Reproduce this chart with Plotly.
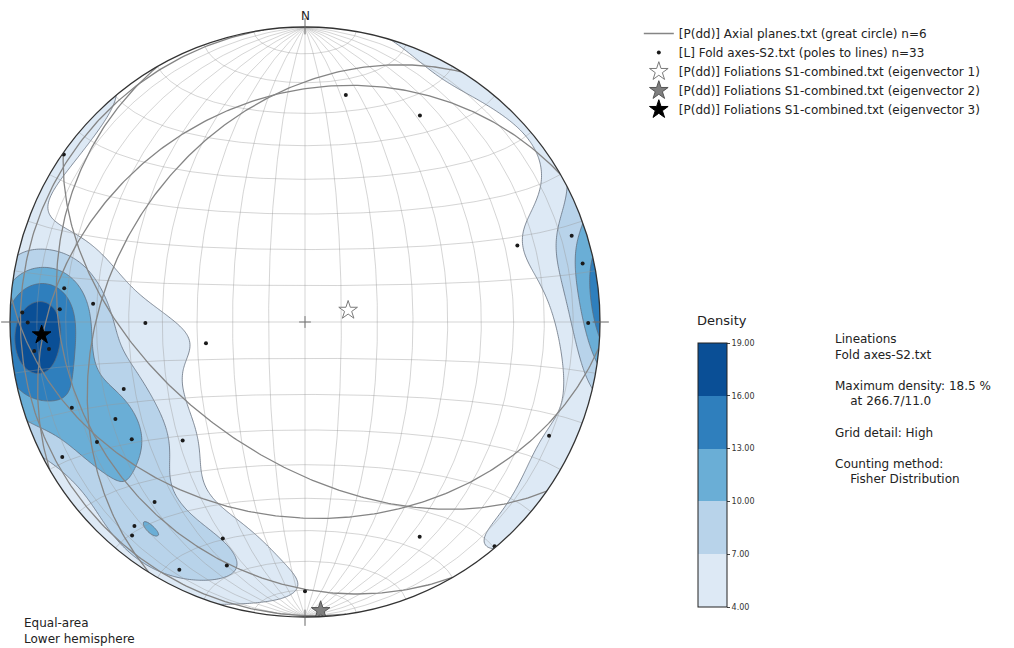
import numpy as np
import plotly.graph_objects as go

# ---------------- data ----------------
# Axial planes: dip direction / dip
plane_dipdir = [302, 215, 330, 240, 262, 185]
plane_dip = [34, 52, 25, 20, 4, 34]

# Fold axes: trend / plunge (last one sits under eigenvector 3)
fold_trend = [278.0, 274.9, 271.9, 273.0, 269.9, 263.9, 264.0, 269.6, 257.9, 249.7,
              249.8, 242.9, 235.9, 240.0, 225.9, 240.9, 219.9, 219.9, 219.0, 200.8,
              197.8, 206.9, 72.1, 70.2, 78.1, 90.2, 115.0, 139.8, 10.2, 29.1,
              151.9, 180.0, 304.8, 267.0]
fold_plunge = [18.7, 28.7, 4.6, 17.9, 6.7, 8.5, 13.8, 45.0, 61.9, 34.8,
               16.9, 28.6, 29.8, 19.7, 41.8, 6.5, 21.6, 10.8, 7.6, 22.6,
               14.4, 6.5, 5.6, 24.5, 4.3, 4.5, 9.6, 0.5, 22.9, 21.0,
               18.6, 9.6, 0.5, 11.3]
n_fold = 33

eig_trend = [74.8, 176.9, 267.2]
eig_plunge = [77.7, 2.3, 11.6]
eig_names = ["[P(dd)] Foliations S1-combined.txt (eigenvector 1)",
             "[P(dd)] Foliations S1-combined.txt (eigenvector 2)",
             "[P(dd)] Foliations S1-combined.txt (eigenvector 3)"]

density_levels = [4, 7, 10, 13, 16, 19]
band_colors = ["#dde9f5", "#b8d3ea", "#6aaed6", "#2f7fbd", "#0a4f96"]
fisher_k = 30.0
max_density = 18.5

info_lines = ["Lineations", "Fold axes-S2.txt", "", "Maximum density: 18.5 %",
              "    at 266.7/11.0", "", "Grid detail: High", "",
              "Counting method:", "    Fisher Distribution"]

FONT = "DejaVu Sans"


def vec(trend, plunge):
    t = np.radians(np.asarray(trend, float))
    p = np.radians(np.asarray(plunge, float))
    return np.stack([np.cos(p) * np.sin(t), np.cos(p) * np.cos(t), np.sin(p)], -1)


def project(v):
    v = np.asarray(v, float)
    v = np.where(v[..., 2:3] < 0, -v, v)
    s = 1.0 / np.sqrt(1.0 + v[..., 2])
    return v[..., 0] * s, v[..., 1] * s


def great_circle(dd, dip, n=241):
    a = np.radians(dd)
    d = np.radians(dip)
    strike = np.array([np.sin(a - np.pi / 2), np.cos(a - np.pi / 2), 0.0])
    dipv = np.array([np.cos(d) * np.sin(a), np.cos(d) * np.cos(a), np.sin(d)])
    th = np.linspace(0, np.pi, n)
    v = np.outer(np.cos(th), strike) + np.outer(np.sin(th), dipv)
    return project(v)


fig = go.Figure()

# Fisher counting (axial) on a grid extending past the primitive
g = np.linspace(-1.12, 1.12, 321)
GX, GY = np.meshgrid(g, g)
R2 = np.clip(GX ** 2 + GY ** 2, 0, 2)
S = np.sqrt(2 - R2)
GV = np.stack([GX * S, GY * S, 1 - R2], -1)
DV = vec(fold_trend, fold_plunge)
cosang = np.abs(GV @ DV.T)
dens = np.exp(fisher_k * (cosang - 1)).sum(-1)
inside = (GX ** 2 + GY ** 2) <= 1.0
dens = dens * max_density / dens[inside].max()

cs = [[0, "rgba(255,255,255,0)"], [0.05, "rgba(255,255,255,0)"],
      [0.12, band_colors[0]], [0.22, band_colors[0]],
      [0.28, band_colors[1]], [0.38, band_colors[1]],
      [0.45, band_colors[2]], [0.55, band_colors[2]],
      [0.62, band_colors[3]], [0.72, band_colors[3]],
      [0.78, band_colors[4]], [1.0, band_colors[4]]]

fig.add_trace(go.Contour(
    x=g, y=g, z=dens,
    contours=dict(start=density_levels[0], end=density_levels[-1],
                  size=density_levels[1] - density_levels[0], coloring="fill"),
    colorscale=cs, showscale=False,
    line=dict(color="rgba(95,105,120,0.75)", width=1),
    hoverinfo="skip", showlegend=False))

# Schmidt net grid
gx, gy = [], []
for dip in range(10, 90, 10):
    for dd in (90, 270):
        x, y = great_circle(dd, dip)
        gx += list(x) + [None]
        gy += list(y) + [None]
gx += [0, 0, None]
gy += [-1, 1, None]
ph = np.linspace(0, np.pi, 181)
for al in range(10, 180, 10):
    a = np.radians(al)
    v = np.stack([np.sin(a) * np.cos(ph), np.full_like(ph, np.cos(a)), np.sin(a) * np.sin(ph)], -1)
    x, y = project(v)
    gx += list(x) + [None]
    gy += list(y) + [None]
fig.add_trace(go.Scatter(x=gx, y=gy, mode="lines",
                         line=dict(color="rgba(150,150,150,0.45)", width=0.9),
                         hoverinfo="skip", showlegend=False))

cx, cy = [], []
for dd, dp in zip(plane_dipdir, plane_dip):
    x, y = great_circle(dd, dp)
    cx += list(x) + [None]
    cy += list(y) + [None]
fig.add_trace(go.Scatter(x=cx, y=cy, mode="lines",
                         line=dict(color="#858585", width=1.3),
                         name="[P(dd)] Axial planes.txt (great circle) n=%d" % len(plane_dip)))

px_, py_ = project(vec(fold_trend, fold_plunge))
fig.add_trace(go.Scatter(x=px_, y=py_, mode="markers",
                         marker=dict(color="#1a1a1a", size=4),
                         name="[L] Fold axes-S2.txt (poles to lines) n=%d" % n_fold))

ex, ey = project(vec(eig_trend, eig_plunge))
star_fill = ["white", "#7f7f7f", "black"]
star_line = ["#7a7a7a", "#555555", "black"]
for i in range(3):
    fig.add_trace(go.Scatter(x=[ex[i]], y=[ey[i]], mode="markers",
                             marker=dict(symbol="star", size=14, color=star_fill[i],
                                         line=dict(color=star_line[i], width=1)),
                             name=eig_names[i]))

cbs = []
for i, c in enumerate(band_colors):
    cbs += [[i / 5, c], [(i + 1) / 5, c]]
fig.add_trace(go.Scatter(
    x=[10], y=[10], mode="markers", showlegend=False, hoverinfo="skip",
    marker=dict(color=[density_levels[0]], cmin=density_levels[0], cmax=density_levels[-1],
                colorscale=cbs, showscale=True, size=1,
                colorbar=dict(x=698 / 1014, xanchor="left", xpad=0,
                              y=1 - 343 / 648, yanchor="top", ypad=0,
                              len=264, lenmode="pixels", thickness=29,
                              outlinewidth=1, outlinecolor="#222",
                              tickvals=density_levels,
                              ticktext=["%.2f" % v for v in density_levels],
                              ticks="outside", ticklen=3, tickcolor="#444",
                              tickfont=dict(family=FONT, size=8, color="#333")))))

th = np.linspace(0, 2 * np.pi, 721)
circ = " ".join(("M" if i == 0 else "L") + "%.5f,%.5f" % (np.cos(t), np.sin(t)) for i, t in enumerate(th))
mask_path = "M-4,-4 L4,-4 L4,4 L-4,4 Z " + circ + " Z"
shapes = [dict(type="path", path=mask_path, fillcolor="white", fillrule="evenodd",
               line=dict(width=0), layer="above", xref="x", yref="y"),
          dict(type="circle", x0=-1, y0=-1, x1=1, y1=1, xref="x", yref="y",
               line=dict(color="#333333", width=1.3), layer="above")]
for ang in (0, 90, 180, 270):
    a = np.radians(ang)
    shapes.append(dict(type="line", xref="x", yref="y", layer="above",
                       x0=0.975 * np.sin(a), y0=0.975 * np.cos(a),
                       x1=1.03 * np.sin(a), y1=1.03 * np.cos(a),
                       line=dict(color="#666666", width=1)))
shapes.append(dict(type="line", xref="x", yref="y", layer="above", x0=-0.02, x1=0.02, y0=0, y1=0,
                   line=dict(color="#777", width=1)))
shapes.append(dict(type="line", xref="x", yref="y", layer="above", x0=0, x1=0, y0=-0.02, y1=0.02,
                   line=dict(color="#777", width=1)))
for i in range(1, 5):
    yy = 343 + 264 * i / 5
    shapes.append(dict(type="line", xref="paper", yref="paper",
                       x0=698 / 1014, x1=727 / 1014, y0=1 - yy / 648, y1=1 - yy / 648,
                       line=dict(color="rgba(60,70,90,0.6)", width=1)))

annotations = [
    dict(x=0, y=1.0, xref="x", yref="y", text="N", showarrow=False, yanchor="bottom", yshift=2,
         font=dict(family=FONT, size=12, color="#222")),
    dict(x=22 / 1014, y=1 - 614 / 648, xref="paper", yref="paper", xanchor="left", yanchor="top",
         align="left", showarrow=False, text="Equal-area<br>Lower hemisphere",
         font=dict(family=FONT, size=12, color="#222")),
    dict(x=722 / 1014, y=1 - 311 / 648, xref="paper", yref="paper", xanchor="center", yanchor="top",
         showarrow=False, text="Density", font=dict(family=FONT, size=13, color="#222")),
    dict(x=833 / 1014, y=1 - 330 / 648, xref="paper", yref="paper", xanchor="left", yanchor="top",
         align="left", showarrow=False,
         text="<br>".join(l.replace("    ", "&nbsp;&nbsp;&nbsp;&nbsp;") if l else "&nbsp;" for l in info_lines),
         font=dict(family=FONT, size=12, color="#222")),
]

R = 295.0
cxp, cyp = 305.0, 322.0
fig.update_layout(
    width=1014, height=648, margin=dict(l=0, r=0, t=0, b=0, pad=0),
    paper_bgcolor="white", plot_bgcolor="white",
    xaxis=dict(range=[-cxp / R, (1014 - cxp) / R], visible=False, domain=[0, 1]),
    yaxis=dict(range=[-(648 - cyp) / R, cyp / R], visible=False, domain=[0, 1]),
    shapes=shapes, annotations=annotations,
    legend=dict(x=0.630, y=1 - 19 / 648, xanchor="left", yanchor="top",
                font=dict(family=FONT, size=12, color="#222"),
                bgcolor="rgba(0,0,0,0)", tracegroupgap=0, itemwidth=30),
    font=dict(family=FONT),
)

fig.write_html("out.html", config={"displayModeBar": False},
               post_script="document.body.style.margin='0px';document.body.style.overflow='hidden';")
